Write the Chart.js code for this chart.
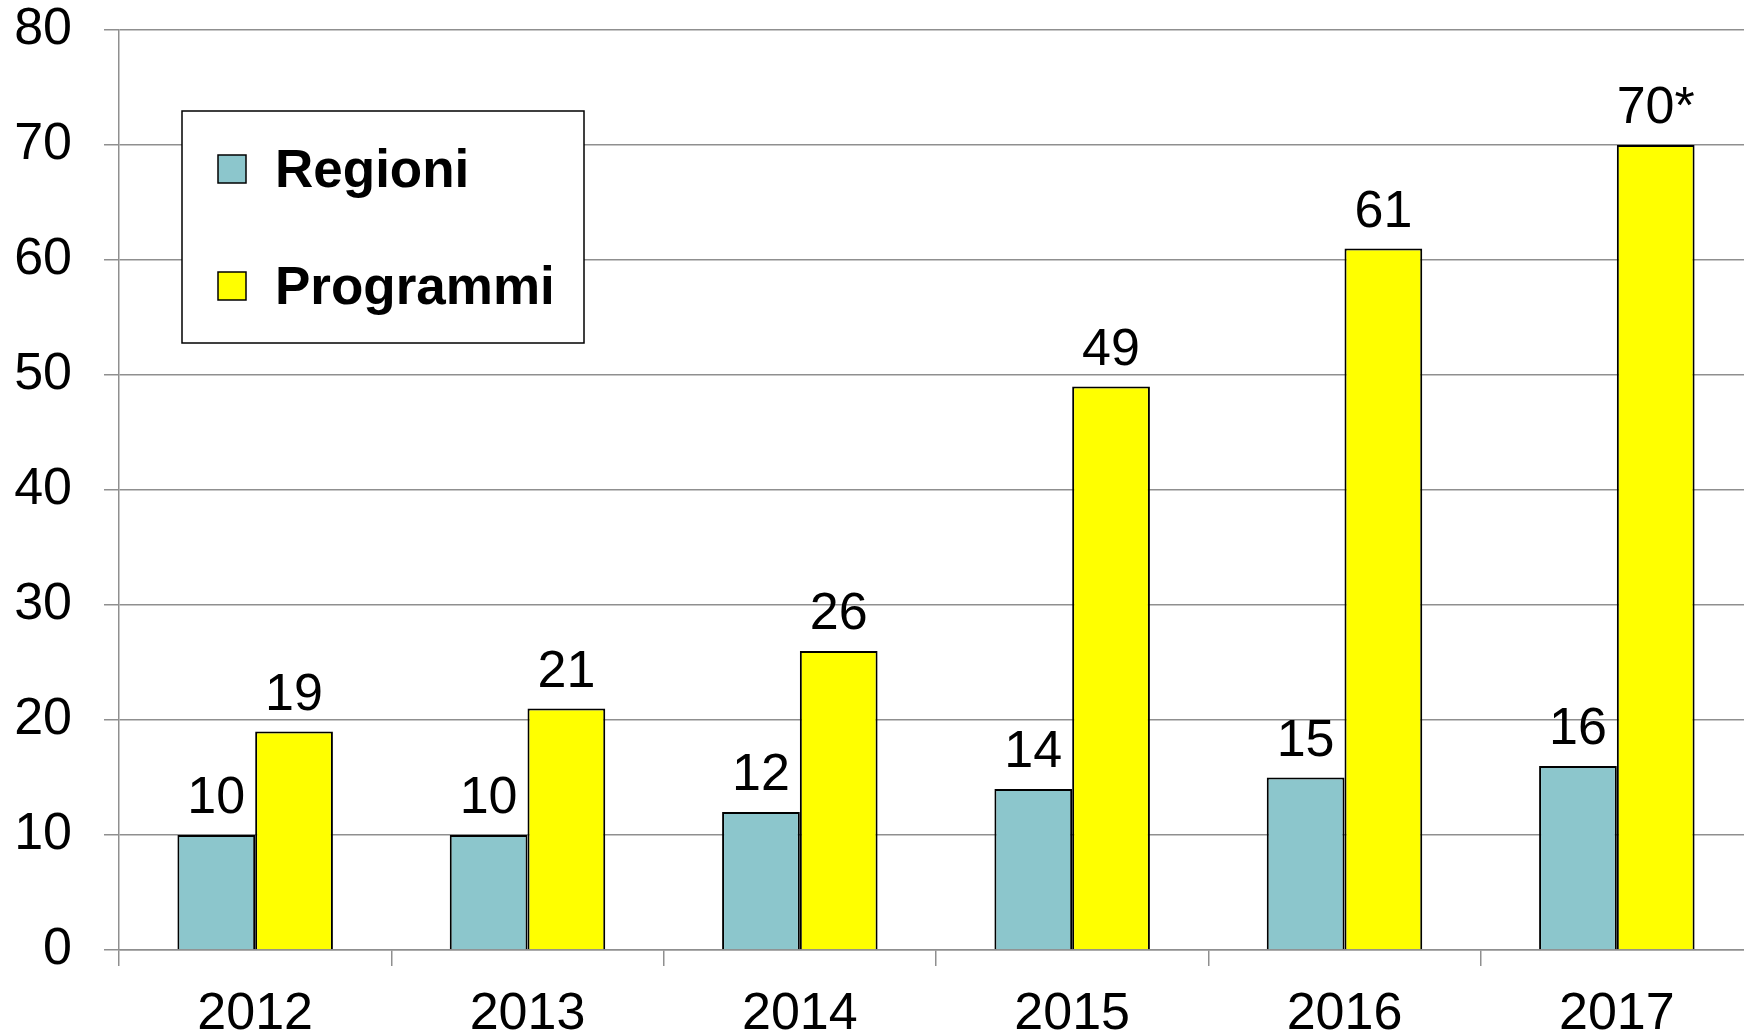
<!DOCTYPE html>
<html>
<head>
<meta charset="utf-8">
<script src="https://cdn.jsdelivr.net/npm/chart.js@4/dist/chart.umd.min.js"></script>
<style>
  html, body { margin: 0; padding: 0; background: #fff; overflow: hidden; }
  #wrap { width: 1744px; height: 1035px; overflow: hidden; }
</style>
</head>
<body>
<div id="wrap"><canvas id="chart" width="1760" height="1035"></canvas></div>
<script>
// dati
var anni = ['2012', '2013', '2014', '2015', '2016', '2017'];
var regioni = [10, 10, 12, 14, 15, 16];
var programmi = [19, 21, 26, 49, 61, 70];
var etichetteRegioni = ['10', '10', '12', '14', '15', '16'];
var etichetteProgrammi = ['19', '21', '26', '49', '61', '70*'];
var tickY = [0, 10, 20, 30, 40, 50, 60, 70, 80];

var FONT = '"Liberation Sans", Arial, sans-serif';
var GRIGIO = '#8f8f8f';

// etichette sopra le barre
var valoriPlugin = {
    id: 'valori',
    afterDatasetsDraw: function(chart) {
        var ctx = chart.ctx;
        ctx.save();
        ctx.font = '52px ' + FONT;
        ctx.fillStyle = '#000';
        ctx.textAlign = 'center';
        ctx.textBaseline = 'alphabetic';
        chart.data.datasets.forEach(function(ds, i) {
            var meta = chart.getDatasetMeta(i);
            meta.data.forEach(function(bar, j) {
                ctx.fillText(ds.etichette[j], bar.x, bar.y - 22);
            });
        });
        ctx.restore();
    }
};

// legenda dentro l'area del grafico
var legendaPlugin = {
    id: 'legenda',
    afterDatasetsDraw: function(chart) {
        var ctx = chart.ctx;
        ctx.save();
        ctx.fillStyle = '#fff';
        ctx.fillRect(182, 111, 402, 232);
        ctx.strokeStyle = '#000';
        ctx.lineWidth = 1.5;
        ctx.strokeRect(182, 111, 402, 232);
        ctx.font = 'bold 53px ' + FONT;
        ctx.textBaseline = 'alphabetic';
        ctx.textAlign = 'left';
        var righe = [155, 272];
        chart.data.datasets.forEach(function(ds, i) {
            var y = righe[i];
            ctx.fillStyle = ds.backgroundColor;
            ctx.fillRect(218, y, 28, 28);
            ctx.strokeStyle = '#000';
            ctx.lineWidth = 1.5;
            ctx.strokeRect(218, y, 28, 28);
            ctx.fillStyle = '#000';
            ctx.fillText(ds.label, 275, y + 32);
        });
        ctx.restore();
    }
};

var ctx = document.getElementById('chart').getContext('2d');
new Chart(ctx, {
    type: 'bar',
    data: {
        labels: anni,
        datasets: [{
            label: 'Regioni',
            data: regioni,
            etichette: etichetteRegioni,
            backgroundColor: '#8cc6cc',
            borderColor: '#000',
            borderWidth: 2,
            categoryPercentage: 0.571,
            barPercentage: 1.0
        }, {
            label: 'Programmi',
            data: programmi,
            etichette: etichetteProgrammi,
            backgroundColor: '#ffff00',
            borderColor: '#000',
            borderWidth: 2,
            categoryPercentage: 0.571,
            barPercentage: 1.0
        }]
    },
    options: {
        responsive: false,
        animation: false,
        layout: { padding: { top: 30, right: 7, left: 0, bottom: 0 } },
        plugins: {
            legend: { display: false },
            tooltip: { enabled: false }
        },
        scales: {
            x: {
                grid: {
                    drawOnChartArea: false,
                    drawTicks: true,
                    tickLength: 16,
                    color: GRIGIO,
                    lineWidth: 1.5,
                    offset: true
                },
                border: { color: GRIGIO, width: 1.5 },
                ticks: {
                    color: '#000',
                    font: { family: FONT, size: 52 },
                    padding: 17
                },
                afterFit: function(s) {
                    s.height = 85;
                    s.paddingLeft = 0;
                    s.paddingRight = 0;
                }
            },
            y: {
                min: 0,
                max: 80,
                afterBuildTicks: function(s) {
                    s.ticks = tickY.map(function(v) { return { value: v }; });
                },
                grid: {
                    color: GRIGIO,
                    lineWidth: 1.5,
                    tickLength: 15
                },
                border: { color: GRIGIO, width: 1.5 },
                ticks: {
                    color: '#000',
                    font: { family: FONT, size: 52 },
                    padding: 32
                },
                afterFit: function(s) {
                    s.width = 119;
                    s.paddingTop = 0;
                    s.paddingBottom = 0;
                }
            }
        }
    },
    plugins: [valoriPlugin, legendaPlugin]
});
</script>
</body>
</html>
